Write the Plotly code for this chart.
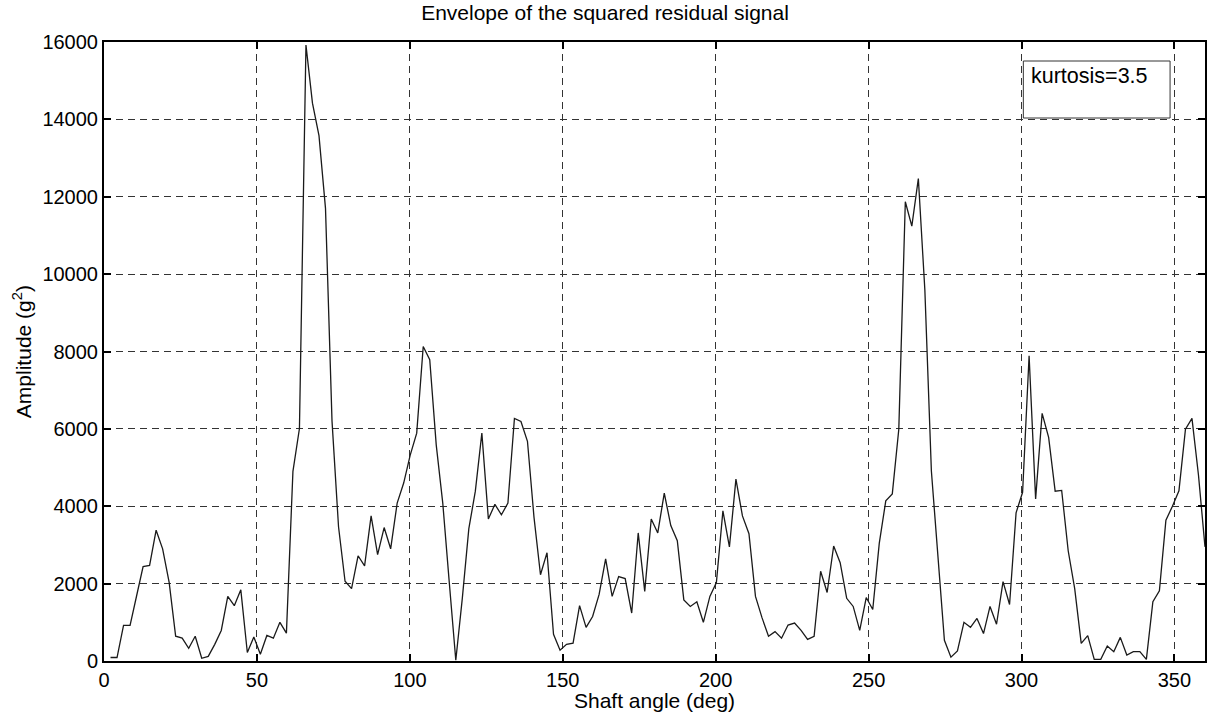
import numpy as np
import plotly.graph_objects as go

# Sampling grid: 169 equally spaced shaft angles ending at 360 deg
n_samples = 169
shaft_angle = np.arange(1, n_samples + 1) * 360.0 / n_samples

# Envelope of squared residual signal (g^2), one value per shaft angle
amplitude = [
    90, 90, 920, 920, 1680, 2440, 2470, 3380, 2900, 2030,
    640, 590, 330, 640, 70, 120, 430, 790, 1670, 1430,
    1840, 220, 620, 175, 660, 590, 1000, 720, 4900, 6010,
    15920, 14420, 13580, 11700, 6200, 3470, 2060, 1870, 2720, 2460,
    3750, 2750, 3450, 2900, 4080, 4600, 5320, 5890, 8130, 7790,
    5580, 4080, 2030, 20, 1620, 3420, 4390, 5890, 3670, 4050,
    3780, 4080, 6270, 6190, 5680, 3720, 2230, 2800, 690, 280,
    430, 460, 1430, 870, 1150, 1720, 2640, 1670, 2180, 2130,
    1240, 3310, 1800, 3670, 3310, 4340, 3500, 3110, 1580, 1410,
    1530, 1000, 1670, 2030, 3880, 2950, 4700, 3750, 3290, 1670,
    1120, 640, 760, 590, 930, 980, 790, 560, 640, 2320,
    1770, 2970, 2540, 1620, 1410, 790, 1640, 1330, 3040, 4140,
    4320, 5990, 11870, 11240, 12470, 9590, 4910, 2800, 535, 100,
    260, 1000, 870, 1100, 710, 1410, 950, 2050, 1460, 3830,
    4360, 7890, 4190, 6400, 5780, 4390, 4410, 2850, 1870, 456,
    654, 43, 43, 387, 241, 611, 155, 241, 241, 43,
    1531, 1815, 3638, 4000, 4400, 5990, 6270, 4800, 2950,
]

x_ticks = [0, 50, 100, 150, 200, 250, 300, 350]
y_ticks = [0, 2000, 4000, 6000, 8000, 10000, 12000, 14000, 16000]
kurtosis_label = "kurtosis=3.5"

FONT = "Liberation Sans, Arial, Helvetica, sans-serif"
W, H = 1209, 718
L, R, T, B = 104, 2, 42, 57
PW, PH = W - L - R, H - T - B


def px_to_paper_x(px):
    return (px - L) / PW


def px_to_paper_y(py):
    return (H - B - py) / PH


fig = go.Figure()
fig.add_trace(go.Scatter(
    x=shaft_angle, y=amplitude, mode="lines",
    line=dict(color="#1a1a1a", width=1.3),
    showlegend=False, hoverinfo="x+y",
))

axis_common = dict(
    showline=True, linecolor="black", linewidth=2, mirror="ticks",
    ticks="inside", ticklen=7, tickwidth=1.5, tickcolor="black",
    showgrid=True, gridcolor="#333333", gridwidth=1, griddash="7px,5px",
    zeroline=False,
    tickfont=dict(family=FONT, size=20, color="black"),
)

fig.update_xaxes(range=[0, 360], tickvals=x_ticks,
                 ticktext=[str(v) for v in x_ticks], **axis_common)
fig.update_yaxes(range=[0, 16000], tickvals=y_ticks,
                 ticktext=[str(v) for v in y_ticks], **axis_common)

# Text box with the kurtosis value
fig.add_shape(type="rect", xref="paper", yref="paper",
              x0=px_to_paper_x(1025), x1=px_to_paper_x(1172),
              y0=px_to_paper_y(118), y1=px_to_paper_y(61),
              line=dict(color="#333333", width=1), fillcolor="white", layer="above")

annotations = [
    dict(text=kurtosis_label, xref="paper", yref="paper",
         x=px_to_paper_x(1031), y=px_to_paper_y(76), xanchor="left", yanchor="middle",
         showarrow=False, font=dict(family=FONT, size=21.5, color="black")),
    dict(text="Shaft angle (deg)", xref="paper", yref="paper",
         x=px_to_paper_x(655), y=px_to_paper_y(700), xanchor="center", yanchor="middle",
         showarrow=False, font=dict(family=FONT, size=21, color="black")),
    dict(text="Amplitude (g<sup>2</sup>)", xref="paper", yref="paper",
         x=px_to_paper_x(22), y=px_to_paper_y(352), xanchor="center", yanchor="middle",
         textangle=-90, showarrow=False, font=dict(family=FONT, size=21, color="black")),
]

fig.update_layout(
    width=W, height=H,
    margin=dict(l=L, r=R, t=T, b=B),
    paper_bgcolor="white", plot_bgcolor="white",
    title=dict(text="Envelope of the squared residual signal",
               x=605 / W, xref="container", xanchor="center",
               y=1 - 13 / H, yref="container", yanchor="middle",
               font=dict(family=FONT, size=21, color="black")),
    annotations=annotations,
)

fig.write_html("out.html")
